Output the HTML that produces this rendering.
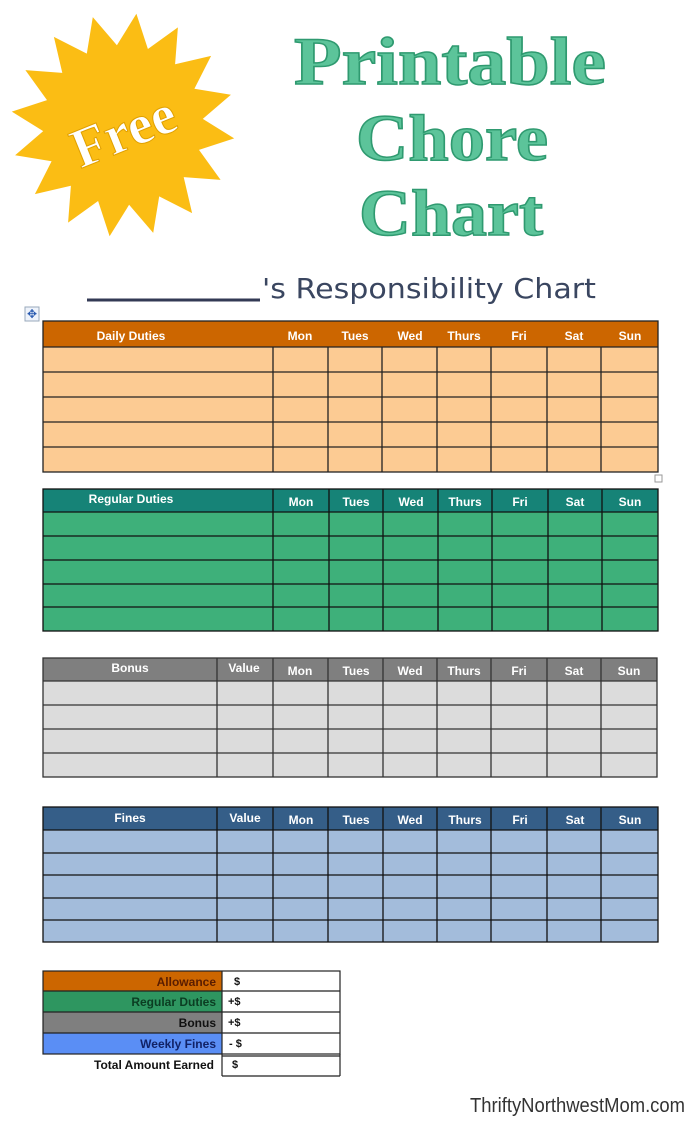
<!DOCTYPE html>
<html><head><meta charset="utf-8"><style>
html,body{margin:0;padding:0;background:#fff;}
svg{display:block}
.h{font-family:"Liberation Sans",sans-serif;font-weight:bold;font-size:12px;fill:#fff;text-anchor:middle}
.s{font-family:"Liberation Sans",sans-serif;font-weight:bold;font-size:12px;text-anchor:end}
</style></head><body>
<svg width="700" height="1128" viewBox="0 0 700 1128" xmlns="http://www.w3.org/2000/svg">
<rect width="700" height="1128" fill="#fff"/>
<polygon id="star" fill="#fbbd14" points=""/>
<script>
var p=[],cx=123,cy=125;for(var i=0;i<32;i++){var a=Math.PI*2*i/32-Math.PI/2+0.12;var r=i%2?80:112;p.push((cx+r*Math.cos(a)).toFixed(1)+","+(cy+r*Math.sin(a)).toFixed(1));}
document.getElementById('star').setAttribute('points',p.join(' '));
</script>
<text x="123" y="150" transform="rotate(-22 123 130)" text-anchor="middle" font-family="Liberation Serif,serif" font-weight="bold" font-size="56" fill="#fff" stroke="#e0a000" stroke-width="1">Free</text>
<g font-family="Liberation Serif,serif" font-weight="bold" fill="#5cc49a" stroke="#2f9a70" stroke-width="1.5" text-anchor="middle">
<text x="450" y="84" font-size="68" textLength="312" lengthAdjust="spacingAndGlyphs">Printable</text>
<text x="452" y="160" font-size="66" textLength="192" lengthAdjust="spacingAndGlyphs">Chore</text>
<text x="451" y="235" font-size="66" textLength="184" lengthAdjust="spacingAndGlyphs">Chart</text>
</g>
<line x1="87" y1="300" x2="260" y2="300" stroke="#333a55" stroke-width="3"/>
<text x="262" y="298" font-family="DejaVu Sans,sans-serif" font-size="28" fill="#3a4660" textLength="334" lengthAdjust="spacingAndGlyphs">'s  Responsibility Chart</text>
<rect x="25" y="307" width="14" height="14" fill="#eef3fb" stroke="#9ab"/>
<text x="32" y="318" font-size="12" fill="#2a5bb0" text-anchor="middle">✥</text>

<!-- Daily -->
<rect x="43" y="321" width="615" height="26" fill="#cc6600"/>
<rect x="43" y="347" width="615" height="125" fill="#fccb93"/>
<g stroke="#222" stroke-width="1.3" fill="none">
<rect x="43" y="321" width="615" height="151"/>
<path d="M43 347H658M43 372H658M43 397H658M43 422H658M43 447H658"/>
<path d="M273 347V472M328 347V472M382 347V472M437 347V472M491 347V472M547 347V472M601 347V472"/>
</g>
<g class="h"><text x="131" y="340" style="font-size:12px">Daily Duties</text><text x="300" y="340">Mon</text><text x="355" y="340">Tues</text><text x="410" y="340">Wed</text><text x="464" y="340">Thurs</text><text x="519" y="340">Fri</text><text x="574" y="340">Sat</text><text x="630" y="340">Sun</text></g>
<rect x="655" y="475" width="7" height="7" fill="#fff" stroke="#999"/>

<!-- Regular -->
<rect x="43" y="489" width="615" height="23" fill="#168377"/>
<rect x="43" y="512" width="615" height="119" fill="#3eb07a"/>
<g stroke="#111" stroke-width="1.3" fill="none">
<rect x="43" y="489" width="615" height="142"/>
<path d="M43 512H658M43 536H658M43 560H658M43 584H658M43 607H658"/>
<path d="M273 512V631M329 489V631M383 489V631M438 489V631M492 489V631M548 489V631M602 489V631M273 489V512" />
</g>
<g class="h"><text x="131" y="503">Regular Duties</text><text x="301" y="506">Mon</text><text x="356" y="506">Tues</text><text x="411" y="506">Wed</text><text x="465" y="506">Thurs</text><text x="520" y="506">Fri</text><text x="575" y="506">Sat</text><text x="630" y="506">Sun</text></g>

<!-- Bonus -->
<rect x="43" y="658" width="614" height="23" fill="#7f7f7f"/>
<rect x="43" y="681" width="614" height="96" fill="#dcdcdc"/>
<g stroke="#333" stroke-width="1.3" fill="none">
<rect x="43" y="658" width="614" height="119"/>
<path d="M43 681H657M43 705H657M43 729H657M43 753H657"/>
<path d="M217 658V777M273 658V777M328 658V777M383 658V777M437 658V777M491 658V777M547 658V777M601 658V777"/>
</g>
<g class="h"><text x="130" y="672">Bonus</text><text x="244" y="672">Value</text><text x="300" y="675">Mon</text><text x="356" y="675">Tues</text><text x="410" y="675">Wed</text><text x="464" y="675">Thurs</text><text x="519" y="675">Fri</text><text x="574" y="675">Sat</text><text x="629" y="675">Sun</text></g>

<!-- Fines -->
<rect x="43" y="807" width="615" height="23" fill="#355e88"/>
<rect x="43" y="830" width="615" height="112" fill="#a3bcdb"/>
<g stroke="#111" stroke-width="1.3" fill="none">
<rect x="43" y="807" width="615" height="135"/>
<path d="M43 830H658M43 853H658M43 875H658M43 898H658M43 920H658"/>
<path d="M217 807V942M273 807V942M328 807V942M383 807V942M437 807V942M491 807V942M547 807V942M601 807V942"/>
</g>
<g class="h"><text x="130" y="822">Fines</text><text x="245" y="822">Value</text><text x="301" y="824">Mon</text><text x="356" y="824">Tues</text><text x="410" y="824">Wed</text><text x="465" y="824">Thurs</text><text x="520" y="824">Fri</text><text x="575" y="824">Sat</text><text x="630" y="824">Sun</text></g>

<!-- Summary -->
<rect x="43" y="971" width="179" height="20" fill="#cc6600"/>
<rect x="43" y="991" width="179" height="21" fill="#2e9660"/>
<rect x="43" y="1012" width="179" height="21" fill="#7f7f7f"/>
<rect x="43" y="1033" width="179" height="21" fill="#5a8ef5"/>
<g stroke="#222" stroke-width="1.2" fill="none">
<rect x="43" y="971" width="297" height="83"/>
<path d="M43 991H340M43 1012H340M43 1033H340M222 971V1076M222 1056H340M340 1054V1076M222 1076H340"/>
</g>
<g class="s"><text x="216" y="986" fill="#5a1d00">Allowance</text><text x="216" y="1006" fill="#0b3d22">Regular Duties</text><text x="216" y="1027" fill="#111">Bonus</text><text x="216" y="1048" fill="#112266">Weekly Fines</text><text x="214" y="1069" fill="#111">Total Amount Earned</text></g>
<g font-family="Liberation Sans,sans-serif" font-weight="bold" font-size="11" fill="#111"><text x="234" y="985">$</text><text x="228" y="1005">+$</text><text x="228" y="1026">+$</text><text x="229" y="1047">- $</text><text x="232" y="1068">$</text></g>

<text x="685" y="1112" text-anchor="end" font-family="Liberation Sans,sans-serif" font-size="20" fill="#333" textLength="215" lengthAdjust="spacingAndGlyphs">ThriftyNorthwestMom.com</text>
</svg>
</body></html>
